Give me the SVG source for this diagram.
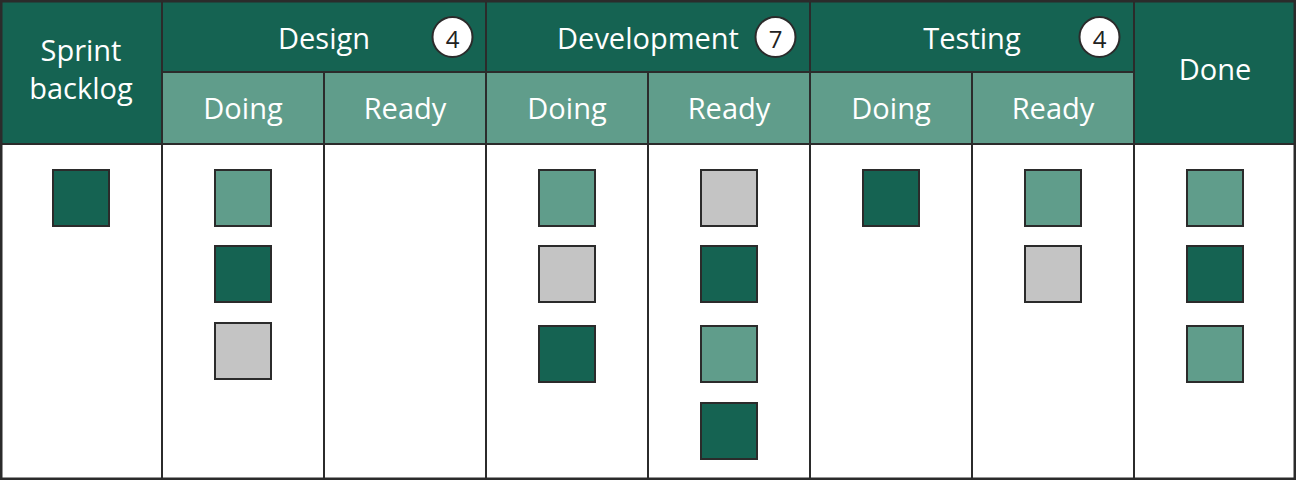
<svg xmlns="http://www.w3.org/2000/svg" width="1296" height="480" viewBox="0 0 1296 480">
<style>
.hd{fill:#156352}
.sub{fill:#609D8B}
.t{font-family:"Open Sans","Noto Sans",sans-serif;font-size:29px;fill:#ffffff;text-anchor:middle}
.num{font-family:"Open Sans","Noto Sans",sans-serif;font-size:24px;fill:#222222;text-anchor:middle}
.badge{fill:#ffffff;stroke:#2b2b2b;stroke-width:2}
.ln{stroke:#2b2b2b;stroke-width:2;fill:none}
.card{stroke:#2b2b2b;stroke-width:2}
.dk{fill:#156352}
.lt{fill:#609D8B}
.gr{fill:#C4C4C4}
</style>
<rect x="0" y="0" width="1296" height="480" fill="#ffffff"/>
<g id="headers">
<rect class="hd" x="0" y="0" width="1296" height="72"/>
<rect class="hd" x="0" y="72" width="162" height="72"/>
<rect class="hd" x="1134" y="72" width="162" height="72"/>
<rect class="sub" x="162" y="72" width="972" height="72"/>
</g>
<g id="grid" class="ln">
<line x1="0" y1="144" x2="1296" y2="144"/>
<line x1="162" y1="72" x2="1134" y2="72"/>
<line x1="162" y1="0" x2="162" y2="480"/>
<line x1="324" y1="72" x2="324" y2="480"/>
<line x1="486" y1="0" x2="486" y2="480"/>
<line x1="648" y1="72" x2="648" y2="480"/>
<line x1="810" y1="0" x2="810" y2="480"/>
<line x1="972" y1="72" x2="972" y2="480"/>
<line x1="1134" y1="0" x2="1134" y2="480"/>
<rect x="1.25" y="1.25" width="1293.5" height="477.5" stroke-width="2.5"/>
</g>
<g id="connectors"></g>
<g id="col-backlog">
<text class="t" x="81" y="61">Sprint</text>
<text class="t" x="81" y="99">backlog</text>
<rect class="card dk" x="53" y="170" width="56" height="56"/>
</g>
<g id="group-design">
<text class="t" x="324" y="49">Design</text>
<circle class="badge" cx="452.5" cy="37" r="20"/>
<text class="num" x="452.5" y="48">4</text>
</g>
<g id="col-design-doing">
<text class="t" x="243" y="119">Doing</text>
<rect class="card lt" x="215" y="170" width="56" height="56"/>
<rect class="card dk" x="215" y="246" width="56" height="56"/>
<rect class="card gr" x="215" y="323" width="56" height="56"/>
</g>
<g id="col-design-ready">
<text class="t" x="405" y="119">Ready</text>
</g>
<g id="group-development">
<text class="t" x="648" y="49">Development</text>
<circle class="badge" cx="775.5" cy="37" r="20"/>
<text class="num" x="775.5" y="48">7</text>
</g>
<g id="col-dev-doing">
<text class="t" x="567" y="119">Doing</text>
<rect class="card lt" x="539" y="170" width="56" height="56"/>
<rect class="card gr" x="539" y="246" width="56" height="56"/>
<rect class="card dk" x="539" y="326" width="56" height="56"/>
</g>
<g id="col-dev-ready">
<text class="t" x="729" y="119">Ready</text>
<rect class="card gr" x="701" y="170" width="56" height="56"/>
<rect class="card dk" x="701" y="246" width="56" height="56"/>
<rect class="card lt" x="701" y="326" width="56" height="56"/>
<rect class="card dk" x="701" y="403" width="56" height="56"/>
</g>
<g id="group-testing">
<text class="t" x="972" y="49">Testing</text>
<circle class="badge" cx="1099.5" cy="37" r="20"/>
<text class="num" x="1099.5" y="48">4</text>
</g>
<g id="col-test-doing">
<text class="t" x="891" y="119">Doing</text>
<rect class="card dk" x="863" y="170" width="56" height="56"/>
</g>
<g id="col-test-ready">
<text class="t" x="1053" y="119">Ready</text>
<rect class="card lt" x="1025" y="170" width="56" height="56"/>
<rect class="card gr" x="1025" y="246" width="56" height="56"/>
</g>
<g id="col-done">
<text class="t" x="1215" y="80">Done</text>
<rect class="card lt" x="1187" y="170" width="56" height="56"/>
<rect class="card dk" x="1187" y="246" width="56" height="56"/>
<rect class="card lt" x="1187" y="326" width="56" height="56"/>
</g>
</svg>
